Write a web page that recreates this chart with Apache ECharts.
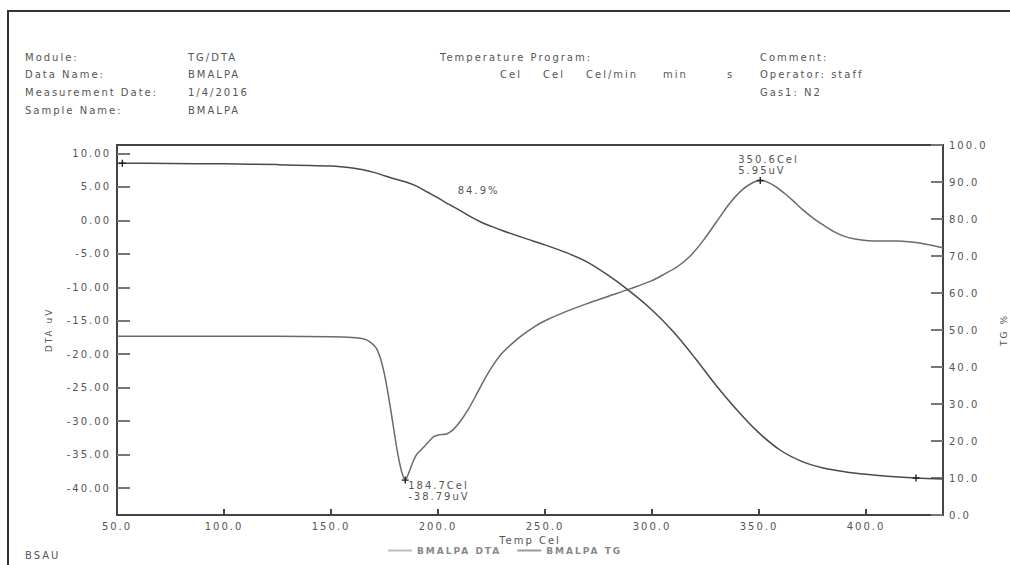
<!DOCTYPE html>
<html>
<head>
<meta charset="utf-8">
<script src="https://cdn.jsdelivr.net/npm/echarts@6/dist/echarts.min.js"></script>
<style>
  html, body { margin: 0; padding: 0; background: #fff; }
  #chart { width: 1010px; height: 565px; letter-spacing: 2px; }
</style>
</head>
<body>
<div id="chart"></div>
<script>
// DTA signal (uV) against temperature (Cel)
const dtaTemp = [50, 100, 150, 160, 165, 168, 171, 173, 175, 177, 179, 181, 183, 184.7, 186, 188, 190, 192, 195, 198,
  201, 204, 207, 210, 214, 218, 222, 226, 230, 235, 240, 245, 250, 260, 270, 280, 290, 300, 306, 312,
  318, 324, 330, 336, 342, 347, 350.6, 354, 358, 362, 366, 370, 375, 380, 385, 390, 395, 400, 405, 410,
  415, 420, 425, 430, 436];
const dtaVal = [-17.3, -17.3, -17.4, -17.5, -17.7, -18.1, -19.0, -20.5, -23.0, -26.5, -30.5, -34.5, -37.5, -38.79, -38.0, -36.3, -35.0, -34.3, -33.3, -32.3,
  -32.0, -31.9, -31.3, -30.2, -28.3, -26.0, -23.6, -21.5, -19.8, -18.3, -17.0, -15.9, -15.0, -13.6, -12.4, -11.3, -10.2, -9.0, -8.0, -6.9,
  -5.3, -3.0, -0.3, 2.4, 4.5, 5.6, 5.95, 5.7, 5.0, 4.0, 2.9, 1.7, 0.4, -0.7, -1.7, -2.4, -2.8, -3.0, -3.1, -3.1,
  -3.1, -3.2, -3.4, -3.7, -4.1];

// TG mass (%) against temperature (Cel)
const tgTemp = [50, 75, 100, 125, 150, 160, 165, 170, 175, 180, 185, 190, 195, 200, 205, 210, 215, 220, 225, 230,
  240, 250, 260, 270, 280, 290, 300, 310, 320, 330, 340, 350, 360, 370, 380, 390, 400, 410, 423.4, 436];
const tgVal = [95.1, 95.0, 94.9, 94.7, 94.3, 93.8, 93.3, 92.6, 91.7, 90.8, 90.0, 88.9, 87.3, 85.7, 84.0, 82.4, 80.7, 79.2, 78.0, 76.9,
  74.9, 73.0, 70.9, 68.3, 64.6, 60.3, 55.4, 49.5, 42.5, 35.0, 28.2, 22.2, 17.5, 14.5, 12.7, 11.7, 11.0, 10.5, 10.0, 9.7];

// DTA peaks (temperature, signal)
const peakTemp = [184.7, 350.6];
const peakVal = [-38.79, 5.95];

// TG cursor marks
const tgMarkTemp = [52.5, 423.4];
const tgMarkVal = [95.1, 10.0];

// TG step annotation
const stepText = '84.9%';
const stepAt = [219, 87.8];

// Axis ticks
const xTicks = [50, 100, 150, 200, 250, 300, 350, 400];
const dtaTicks = [-40, -35, -30, -25, -20, -15, -10, -5, 0, 5, 10];
const tgTicks = [0, 10, 20, 30, 40, 50, 60, 70, 80, 90, 100];

// Header block
const headerLeft = [['Module:', 'TG/DTA'], ['Data Name:', 'BMALPA'], ['Measurement Date:', '1/4/2016'], ['Sample Name:', 'BMALPA']];
const programHead = 'Temperature Program:';
const programCols = ['Cel', 'Cel', 'Cel/min', 'min', 's'];
const headerRight = ['Comment:', 'Operator: staff', 'Gas1: N2'];

const seriesNames = ['BMALPA DTA', 'BMALPA TG'];

const FONT = '"DejaVu Sans", sans-serif';
const TXT = '#555';
const AX = '#444';

const pairs = (xs, ys) => xs.map((x, i) => [x, ys[i]]);
const plus = 'path://M4,0H6V10H4ZM0,4H10V6H0Z';

const graphics = [
  { type: 'rect', shape: { x: 8, y: 11, width: 1100, height: 700 }, style: { fill: 'none', stroke: '#333', lineWidth: 2 }, silent: true }
];
const rowY = [57, 74, 92, 110];
headerLeft.forEach((r, i) => {
  graphics.push({ type: 'text', x: 25, y: rowY[i], style: { text: r[0], font: '10px ' + FONT, fill: TXT, verticalAlign: 'middle' } });
  graphics.push({ type: 'text', x: 188, y: rowY[i], style: { text: r[1], font: '10px ' + FONT, fill: TXT, verticalAlign: 'middle' } });
});
graphics.push({ type: 'text', x: 440, y: rowY[0], style: { text: programHead, font: '10px ' + FONT, fill: TXT, verticalAlign: 'middle' } });
const colX = [500, 543, 586, 663, 727];
programCols.forEach((c, i) => {
  graphics.push({ type: 'text', x: colX[i], y: rowY[1], style: { text: c, font: '10px ' + FONT, fill: TXT, verticalAlign: 'middle' } });
});
headerRight.forEach((t, i) => {
  graphics.push({ type: 'text', x: 760, y: rowY[i], style: { text: t, font: '10px ' + FONT, fill: TXT, verticalAlign: 'middle' } });
});
graphics.push({ type: 'text', x: 25, y: 555, style: { text: 'BSAU', font: '10px ' + FONT, fill: TXT, verticalAlign: 'middle' } });

const chart = echarts.init(document.getElementById('chart'), null, { renderer: 'svg' });

chart.setOption({
  backgroundColor: '#fff',
  animation: false,
  textStyle: { fontFamily: FONT },
  graphic: graphics,
  grid: { left: 117, right: 67, top: 145, bottom: 50, outerBoundsMode: 'none', containLabel: false,
    show: true, borderColor: AX, borderWidth: 2, backgroundColor: 'transparent' },
  legend: {
    left: 383, top: 541, itemGap: 36, itemWidth: 24, itemHeight: 2,
    icon: 'rect',
    textStyle: { color: '#888', fontSize: 9, fontWeight: 'bold', fontFamily: FONT },
    data: seriesNames
  },
  xAxis: {
    type: 'value', min: 50, max: 436, interval: 50,
    name: 'Temp Cel', nameLocation: 'middle', nameGap: 14,
    nameTextStyle: { color: TXT, fontSize: 10, fontFamily: FONT },
    axisLine: { onZero: false, lineStyle: { color: AX, width: 2 } },
    axisTick: { inside: true, length: 6, lineStyle: { color: AX, width: 2 }, customValues: xTicks },
    axisLabel: { color: TXT, fontSize: 10, margin: 6, customValues: xTicks, formatter: v => v.toFixed(1) },
    splitLine: { show: false }
  },
  yAxis: [
    {
      type: 'value', min: -44, max: 11.24, position: 'left',
      name: 'DTA uV', nameLocation: 'middle', nameGap: 64, nameRotate: 90,
      nameTextStyle: { color: TXT, fontSize: 9, fontFamily: FONT },
      axisLine: { show: true, onZero: false, lineStyle: { color: AX, width: 2 } },
      axisTick: { show: true, inside: true, length: 13, lineStyle: { color: '#777', width: 2 }, customValues: dtaTicks },
      axisLabel: { color: TXT, fontSize: 10, margin: 6, customValues: dtaTicks, formatter: v => v.toFixed(2) },
      splitLine: { show: false }
    },
    {
      type: 'value', min: 0, max: 100, position: 'right',
      name: 'TG %', nameLocation: 'middle', nameGap: 56, nameRotate: 90,
      nameTextStyle: { color: TXT, fontSize: 9, fontFamily: FONT },
      axisLine: { show: true, onZero: false, lineStyle: { color: AX, width: 2 } },
      axisTick: { show: true, inside: true, length: 12, lineStyle: { color: '#777', width: 2 }, customValues: tgTicks },
      axisLabel: { color: TXT, fontSize: 10, margin: 6, customValues: tgTicks, formatter: v => v.toFixed(1) },
      splitLine: { show: false }
    }
  ],
  series: [
    {
      name: seriesNames[0], type: 'line', yAxisIndex: 0, data: pairs(dtaTemp, dtaVal),
      showSymbol: false, smooth: 0.3,
      lineStyle: { color: '#6a6a6a', width: 1.5 }, itemStyle: { color: '#bdbdbd' },
      markPoint: {
        symbol: plus, symbolSize: 7, itemStyle: { color: '#222' },
        data: [
          {
            coord: [peakTemp[0], peakVal[0]],
            label: { show: true, position: 'bottom', align: 'left', offset: [3, -9], lineHeight: 11, color: TXT, fontSize: 10, fontFamily: FONT,
              formatter: peakTemp[0].toFixed(1) + 'Cel\n' + peakVal[0].toFixed(2) + 'uV' }
          },
          {
            coord: [peakTemp[1], peakVal[1]],
            label: { show: true, position: 'top', align: 'left', offset: [-22, 4], lineHeight: 11, color: TXT, fontSize: 10, fontFamily: FONT,
              formatter: peakTemp[1].toFixed(1) + 'Cel\n' + peakVal[1].toFixed(2) + 'uV' }
          }
        ]
      }
    },
    {
      name: seriesNames[1], type: 'line', yAxisIndex: 1, data: pairs(tgTemp, tgVal),
      showSymbol: false, smooth: 0.3,
      lineStyle: { color: '#4a4a4a', width: 1.5 }, itemStyle: { color: '#9a9a9a' },
      markPoint: {
        symbol: plus, symbolSize: 7, itemStyle: { color: '#222' },
        label: { show: false },
        data: [
          { coord: [tgMarkTemp[0], tgMarkVal[0]] },
          { coord: [tgMarkTemp[1], tgMarkVal[1]] },
          {
            coord: stepAt, symbolSize: 0,
            label: { show: true, position: 'inside', color: TXT, fontSize: 10, fontFamily: FONT, formatter: stepText }
          }
        ]
      }
    }
  ]
});
</script>
</body>
</html>
